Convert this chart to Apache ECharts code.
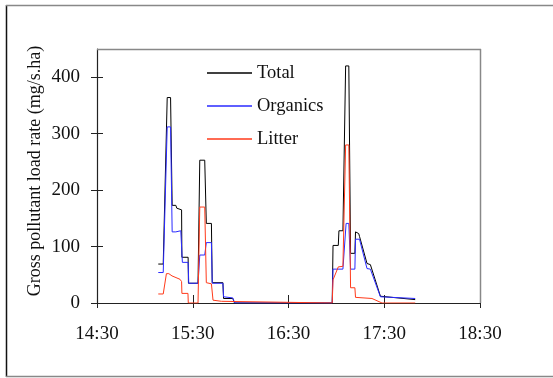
<!DOCTYPE html>
<html>
<head>
<meta charset="utf-8">
<script src="https://cdn.jsdelivr.net/npm/echarts@6/dist/echarts.min.js"></script>
<style>
  html, body { margin: 0; padding: 0; background: #fff; }
  #chart { width: 553px; height: 378px; }
</style>
</head>
<body>
<div id="chart"></div>
<script>
// minutes after 14:30, value in mg/s.ha
const totalLoad = [
  [38.4, 69], [41.5, 69], [44, 364], [46.1, 364], [47.1, 173], [49.4, 173], [50, 168], [53, 165],
  [53.2, 81], [57.1, 81], [57.3, 35], [63.3, 35], [64.4, 253], [67.5, 253], [68.5, 141], [71.7, 141],
  [72.2, 36], [78.9, 36], [79.3, 8], [85.1, 8], [86.2, 0], [147.4, 0], [147.9, 102], [151.2, 102],
  [151.6, 128], [154.1, 128], [155.8, 420], [157.8, 420], [158.9, 88], [161.6, 88], [162, 126],
  [164, 123], [164.5, 118], [169.2, 70], [171.3, 68], [177.6, 12], [178.6, 9], [199.4, 6]
];
const organicsLoad = [
  [38.4, 54], [41.5, 54], [44, 312], [46.1, 312], [47.1, 126], [49.4, 126], [50, 128], [52.5, 128],
  [53.5, 72], [57.1, 72], [57.5, 35], [63.3, 35], [64.4, 85], [67.5, 85], [68.5, 107], [71.7, 107],
  [72.2, 35], [78.9, 35], [79.3, 11], [85.1, 9], [86.2, 0], [147.4, 0], [147.9, 60], [154.1, 60],
  [156.1, 141], [157.8, 141], [158.9, 60], [161.6, 60], [162, 113], [164.5, 113], [169.2, 61],
  [171.3, 60], [177.6, 11], [178.6, 9], [199.4, 8]
];
const litterLoad = [
  [38.4, 16], [41.5, 16], [43.5, 52], [45, 52], [47, 48], [49.5, 45], [52, 42], [53, 38],
  [53.2, 17], [57, 17], [57.2, 0], [63.3, 0], [64.4, 170], [67.5, 170], [68.5, 36], [71.7, 34],
  [72.7, 5], [78, 3], [79, 0], [147.4, 0], [147.9, 41], [151.2, 64], [154.1, 65], [155.8, 280],
  [157.8, 280], [158.9, 27], [161.6, 27], [162, 10], [172.3, 8], [178.6, 0], [199.4, 0]
];
const seriesNames = ['Total', 'Organics', 'Litter'];
const seriesColors = ['#000', '#2a2aff', '#ff3a1a'];
const yTicks = [0, 100, 200, 300, 400];
const yTitle = 'Gross pollutant load rate (mg/s.ha)';
const xMax = 240, yMax = 450;
const startHour = 14, startMin = 30;

const fmtTime = (m) => {
  const t = startHour * 60 + startMin + m;
  return Math.floor(t / 60) + ':' + String(t % 60).padStart(2, '0');
};

const chart = echarts.init(document.getElementById('chart'));
const serif = 'Liberation Serif';
const axisCol = '#222';
const frameCol = '#888';

const plainAxis = (extra) => Object.assign({
  type: 'value',
  axisTick: { show: false },
  axisLabel: { show: false },
  splitLine: { show: false }
}, extra);

chart.setOption({
  animation: false,
  textStyle: { fontFamily: serif },
  grid: { left: 97, top: 49, right: 73, bottom: 75 },
  legend: {
    data: seriesNames,
    orient: 'vertical',
    left: 202, top: 58,
    icon: 'rect',
    itemWidth: 45, itemHeight: 1.5, itemGap: 13,
    textStyle: { fontFamily: serif, fontSize: 18.5, color: '#111', lineHeight: 20 }
  },
  xAxis: [
    {
      type: 'value', min: 0, max: xMax, interval: 60,
      axisLine: { lineStyle: { color: axisCol, width: 1.2 } },
      axisTick: { length: 5, lineStyle: { color: axisCol } },
      axisLabel: { formatter: fmtTime, fontSize: 19, color: '#111', margin: 22, fontFamily: serif },
      splitLine: { show: false }
    },
    plainAxis({
      min: 0, max: xMax, interval: 60, position: 'bottom',
      axisLine: { show: false },
      axisTick: { inside: true, length: 8, lineStyle: { color: axisCol } }
    })
  ],
  yAxis: [
    {
      type: 'value', min: 0, max: yMax,
      axisLine: { show: true, lineStyle: { color: axisCol, width: 1.2 } },
      axisTick: { length: 6, customValues: yTicks, lineStyle: { color: axisCol } },
      axisLabel: { customValues: yTicks, fontSize: 19, color: '#111', margin: 17, fontFamily: serif },
      splitLine: { show: false }
    },
    plainAxis({
      min: 0, max: yMax, position: 'left',
      axisLine: { show: false },
      axisTick: { show: true, inside: true, length: 6, customValues: yTicks, lineStyle: { color: axisCol } }
    })
  ],
  series: seriesNames.map((name, i) => ({
    name,
    type: 'line',
    data: [totalLoad, organicsLoad, litterLoad][i],
    symbol: 'none',
    lineStyle: { color: seriesColors[i], width: 1 },
    itemStyle: { color: seriesColors[i] },
    z: 3 + i
  })),
  graphic: [
    // page border
    { type: 'line', z: 100, shape: { x1: 6.5, y1: 5, x2: 6.5, y2: 377 }, style: { stroke: '#111', lineWidth: 1.5 } },
    { type: 'line', z: 100, shape: { x1: 6, y1: 5.5, x2: 553, y2: 5.5 }, style: { stroke: '#888', lineWidth: 1.5 } },
    { type: 'line', z: 100, shape: { x1: 6, y1: 376.5, x2: 553, y2: 376.5 }, style: { stroke: '#888', lineWidth: 1.5 } },
    // plot frame, top and right
    { type: 'line', z: 100, shape: { x1: 97, y1: 49.5, x2: 481, y2: 49.5 }, style: { stroke: frameCol, lineWidth: 1.5 } },
    { type: 'line', z: 100, shape: { x1: 480.5, y1: 49, x2: 480.5, y2: 303 }, style: { stroke: frameCol, lineWidth: 1.5 } },
    {
      type: 'text', x: 35, y: 171, rotation: Math.PI / 2,
      style: { text: yTitle, font: '18px "Liberation Serif"', fill: '#111', align: 'center', verticalAlign: 'middle' }
    }
  ]
});
</script>
</body>
</html>
